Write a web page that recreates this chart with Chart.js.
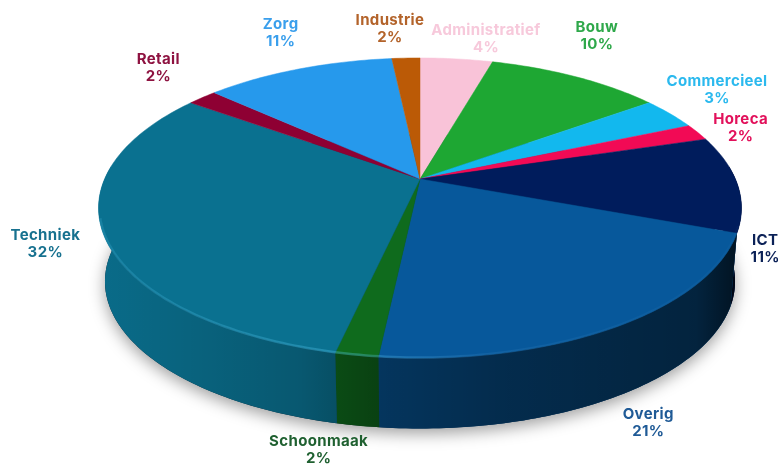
<!DOCTYPE html>
<html>
<head>
<meta charset="utf-8">
<style>
  html, body { margin: 0; padding: 0; background: #fff; }
  #wrap { position: relative; width: 778px; height: 464px; }
  #chart { filter: blur(0.45px); }
</style>
<script src="https://cdn.jsdelivr.net/npm/chart.js@4"></script>
</head>
<body>
<div id="wrap"><canvas id="chart"></canvas></div>
<script>
const categories = ["Administratief", "Bouw", "Commercieel", "Horeca", "ICT", "Overig", "Schoonmaak", "Techniek", "Retail", "Zorg", "Industrie"];
const sliceShares = [4.4, 10.6, 3.5, 1.8, 10.4, 21.0, 1.8, 31.5, 1.8, 11.5, 1.7];
const printedPercents = [4, 10, 3, 2, 11, 21, 2, 32, 2, 11, 2];

const sliceColors = ["#f9c3d8", "#1ea733", "#12b8ee", "#f20a55", "#001c5c", "#07589b", "#0f6b1d", "#0a7190", "#8e0033", "#2699ec", "#bb5a06"];
const labelColors = ["#f7c9db", "#2ea84a", "#2bb9ee", "#e2115b", "#0b2157", "#1f5a96", "#1f6030", "#17718f", "#8e1240", "#3a9fec", "#b3632a"];
// label centre relative to the rim point at the middle of its slice
const labelOffsets = [[29.5, -21], [21, -42], [47, -25], [43, -5], [28, 64], [30, 96], [-38, 94], [-58, 9], [-44, -31], [-18, -37], [-16, -30]];

const PERSPECTIVE = 0.1933;
const STRETCH_X = 1.762;
const STRETCH_Y = 0.807;
const DEPTH = 74;
const BOTTOM_SCALE = 0.98;
const STEP = Math.PI / 180;

// maps a pie angle (0 = top, clockwise) onto the tilted disc
function project(arc, theta, scale = 1, drop = 0) {
  const x = Math.sin(theta);
  const y = -Math.cos(theta);
  const d = 1 - PERSPECTIVE * y;
  return {
    x: arc.x + scale * STRETCH_X * arc.outerRadius * x / d,
    y: arc.y + drop + scale * STRETCH_Y * arc.outerRadius * y / d,
  };
}

function sweep(from, to) {
  const out = [];
  const n = Math.max(1, Math.ceil((to - from) / STEP));
  for (let i = 0; i <= n; i++) out.push(from + (to - from) * i / n);
  return out;
}

function thetaRange(arc) {
  return [arc.startAngle + Math.PI / 2, arc.endAngle + Math.PI / 2];
}

function wallPath(ctx, arc, from, to) {
  ctx.beginPath();
  sweep(from, to).forEach((t) => {
    const p = project(arc, t);
    ctx.lineTo(p.x, p.y);
  });
  sweep(from, to).reverse().forEach((t) => {
    const p = project(arc, t, BOTTOM_SCALE, DEPTH);
    ctx.lineTo(p.x, p.y);
  });
  ctx.closePath();
}

function wallShade(ctx) {
  const g = ctx.createLinearGradient(100, 0, 741, 0);
  const stops = [[0, 0.05], [0.31, 0.22], [0.37, 0.3], [0.44, 0.4], [0.62, 0.5], [0.93, 0.6], [1, 0.8]];
  stops.forEach(([at, alpha]) => g.addColorStop(at, `rgba(0,0,0,${alpha})`));
  return g;
}

const pie3d = {
  id: "pie3d",
  beforeDatasetsDraw(chart) {
    const ctx = chart.ctx;
    const arcs = chart.getDatasetMeta(0).data;
    const wallFrom = (85 * Math.PI) / 180;
    const wallTo = (275 * Math.PI) / 180;

    ctx.save();

    // soft shadow thrown by the bottom disc
    ctx.save();
    ctx.shadowColor = "rgba(0,0,0,0.38)";
    ctx.shadowBlur = 16;
    ctx.shadowOffsetY = 5;
    ctx.fillStyle = "#123";
    ctx.beginPath();
    sweep(0, Math.PI * 2).forEach((t) => {
      const p = project(arcs[0], t, BOTTOM_SCALE, DEPTH);
      ctx.lineTo(p.x, p.y);
    });
    ctx.closePath();
    ctx.fill();
    ctx.restore();

    // side wall
    arcs.forEach((arc, i) => {
      const [a, b] = thetaRange(arc);
      const from = Math.max(a, wallFrom);
      const to = Math.min(b, wallTo);
      if (to <= from) return;
      wallPath(ctx, arc, from, to);
      ctx.fillStyle = sliceColors[i];
      ctx.fill();
      ctx.fillStyle = wallShade(ctx);
      ctx.fill();
    });

    // top face
    arcs.forEach((arc, i) => {
      const [a, b] = thetaRange(arc);
      ctx.beginPath();
      ctx.moveTo(arc.x, arc.y);
      sweep(a, b).forEach((t) => {
        const p = project(arc, t);
        ctx.lineTo(p.x, p.y);
      });
      ctx.closePath();
      ctx.fillStyle = sliceColors[i];
      ctx.strokeStyle = sliceColors[i];
      ctx.lineWidth = 0.5;
      ctx.fill();
      ctx.stroke();
    });

    // lit front edge of the top face
    const edge = ctx.createLinearGradient(100, 0, 741, 0);
    edge.addColorStop(0, "rgba(90,205,245,0.18)");
    edge.addColorStop(0.4, "rgba(90,205,245,0.32)");
    edge.addColorStop(0.6, "rgba(120,190,240,0.1)");
    edge.addColorStop(1, "rgba(120,190,240,0.03)");
    ctx.beginPath();
    sweep((108 * Math.PI) / 180, (255 * Math.PI) / 180).forEach((t) => {
      const p = project(arcs[0], t, 0.997);
      ctx.lineTo(p.x, p.y);
    });
    ctx.strokeStyle = edge;
    ctx.lineWidth = 2.5;
    ctx.stroke();

    ctx.restore();
    return false;
  },
  afterDraw(chart) {
    const ctx = chart.ctx;
    ctx.save();
    ctx.textAlign = "center";
    ctx.textBaseline = "middle";
    ctx.font = "700 15px Inter, 'Open Sans', sans-serif";
    ctx.letterSpacing = "0.35px";
    chart.getDatasetMeta(0).data.forEach((arc, i) => {
      const [a, b] = thetaRange(arc);
      const rim = project(arc, (a + b) / 2);
      const cx = rim.x + labelOffsets[i][0];
      const cy = rim.y + labelOffsets[i][1] + 1;
      ctx.fillStyle = labelColors[i];
      ctx.fillText(categories[i], cx, cy - 8.5);
      ctx.fillText(`${printedPercents[i]}%`, cx, cy + 8.5);
    });
    ctx.restore();
  },
};

new Chart(document.getElementById("chart"), {
  type: "pie",
  data: {
    labels: categories,
    datasets: [{ data: sliceShares, backgroundColor: sliceColors, borderWidth: 0 }],
  },
  options: {
    responsive: true,
    maintainAspectRatio: false,
    animation: false,
    layout: { padding: { left: 62, bottom: 106 } },
    plugins: { legend: { display: false }, tooltip: { enabled: false } },
  },
  plugins: [pie3d],
});
</script>
</body>
</html>
